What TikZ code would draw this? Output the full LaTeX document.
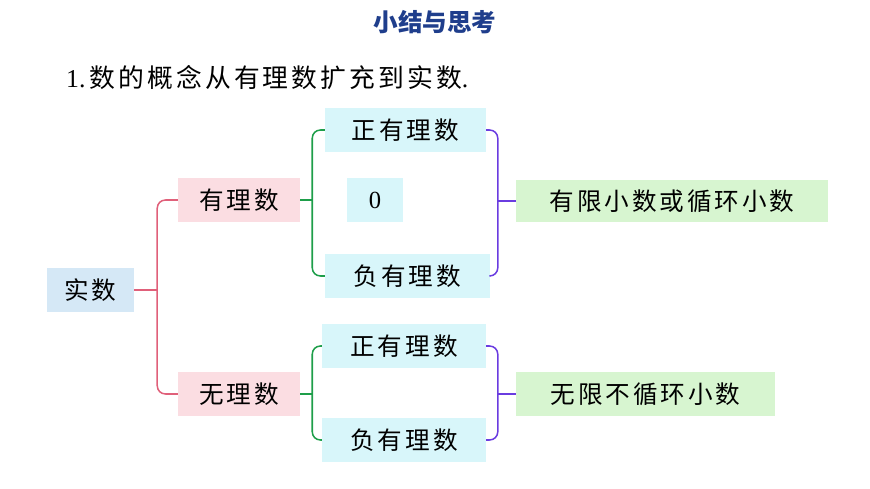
\documentclass[tikz,border=0pt]{standalone}
\usepackage{fontspec}
\setmainfont{Liberation Serif}
\newfontfamily\cjk[LetterSpace=12]{Noto Sans CJK SC}
\newfontfamily\cjktitle{Noto Sans CJK SC}
\usetikzlibrary{positioning,calc}
\definecolor{boxblue}{HTML}{D5E8F6}
\definecolor{boxpink}{HTML}{FBDDE2}
\definecolor{boxcyan}{HTML}{D8F6FA}
\definecolor{boxgreen}{HTML}{D7F5D0}
\definecolor{bracered}{HTML}{E0607A}
\definecolor{bracegreen}{HTML}{1E9E4A}
\definecolor{bracepurple}{HTML}{6A3CE0}
\definecolor{titleblue}{HTML}{1F3E8C}
\tikzset{
  item/.style={inner sep=0pt, font=\cjk\fontsize{21}{25}\selectfont},
  bracket/.style={line width=1.3pt, rounded corners=7pt}
}
\begin{document}
\begin{tikzpicture}[x=0.03cm,y=-0.03cm]
  \useasboundingbox (0,0) rectangle (870,489);
  % title and first line
  \node[font=\cjktitle\bfseries\fontsize{21}{24}\selectfont, text=titleblue] (title) at (435,22) {小结与思考};
  \node[anchor=west, font=\fontsize{22}{26}\selectfont] (line) at (62,78) {1.\,{\cjk 数的概念从有理数扩充到实数}.};
  % boxes
  \node[item, fill=boxblue, minimum width=87*0.03cm, minimum height=44*0.03cm] (real) at (90.5,290) {实数};
  \node[item, fill=boxpink, minimum width=122*0.03cm, minimum height=44*0.03cm] (rat) at (239,200) {有理数};
  \node[item, fill=boxpink, minimum width=122*0.03cm, minimum height=44*0.03cm] (irr) at (239,394) {无理数};
  \node[item, fill=boxcyan, minimum width=161*0.03cm, minimum height=44*0.03cm] (pos) at (405.5,130) {正有理数};
  \node[item, fill=boxcyan, minimum width=56*0.03cm, minimum height=44*0.03cm, font=\fontsize{21}{25}\selectfont] (zero) at (375,200) {0};
  \node[item, fill=boxcyan, minimum width=165*0.03cm, minimum height=44*0.03cm] (neg) at (407.5,276) {负有理数};
  \node[item, fill=boxcyan, minimum width=164*0.03cm, minimum height=44*0.03cm] (ipos) at (404,346) {正有理数};
  \node[item, fill=boxcyan, minimum width=164*0.03cm, minimum height=44*0.03cm] (ineg) at (404,440) {负有理数};
  \node[item, fill=boxgreen, minimum width=312*0.03cm, minimum height=42*0.03cm] (fin) at (672,201) {有限小数或循环小数};
  \node[item, fill=boxgreen, minimum width=259*0.03cm, minimum height=44*0.03cm] (inf) at (645.5,394) {无限不循环小数};
  % braces
  \draw[bracket, bracered] (rat.west) -| ($(real.east)+(23,0)$) |- (irr.west);
  \draw[bracket, bracered, rounded corners=4pt] (real.east) -- ($(real.east)+(23,0)$);
  \draw[bracket, bracegreen] (pos.west) -| ($(rat.east)+(12,0)$) |- (neg.west);
  \draw[bracket, bracegreen, rounded corners=4pt] (rat.east) -- ($(rat.east)+(12,0)$);
  \draw[bracket, bracegreen] (ipos.west) -| ($(irr.east)+(12,0)$) |- (ineg.west);
  \draw[bracket, bracegreen, rounded corners=4pt] (irr.east) -- ($(irr.east)+(12,0)$);
  \draw[bracket, bracepurple] (pos.east) -| ($(fin.west)+(-18,0)$) |- (neg.east);
  \draw[bracket, bracepurple] (fin.west) -- ++(-18,0);
  \draw[bracket, bracepurple] (ipos.east) -| ($(inf.west)+(-18,0)$) |- (ineg.east);
  \draw[bracket, bracepurple] (inf.west) -- ++(-18,0);
\end{tikzpicture}
\end{document}
